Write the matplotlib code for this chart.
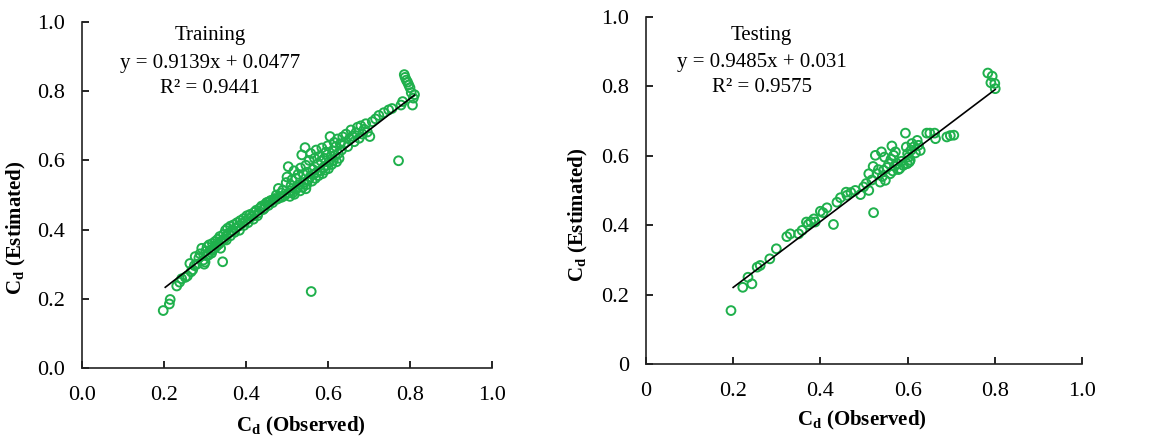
import numpy as np
import matplotlib
matplotlib.use("Agg")
import matplotlib.pyplot as plt

plt.rcParams['font.family'] = ['Liberation Serif', 'DejaVu Serif']
plt.rcParams['mathtext.fontset'] = 'custom'
plt.rcParams['mathtext.rm'] = 'Liberation Serif'
plt.rcParams['mathtext.bf'] = 'Liberation Serif:bold'

# training data (observed, estimated)
train_obs = [0.198, 0.213, 0.215, 0.231, 0.238, 0.243, 0.252, 0.257, 0.263, 0.266, 0.270, 0.274, 0.276, 0.280, 0.285,
             0.288, 0.292, 0.296, 0.298, 0.300, 0.302, 0.305, 0.308, 0.310, 0.313, 0.316, 0.318, 0.322, 0.325, 0.328,
             0.331, 0.334, 0.336, 0.338, 0.340, 0.343, 0.345, 0.347, 0.350, 0.352, 0.355, 0.358, 0.362, 0.366, 0.370,
             0.374, 0.378, 0.382, 0.386, 0.390, 0.394, 0.398, 0.402, 0.406, 0.410, 0.415, 0.420, 0.425, 0.430, 0.434,
             0.438, 0.442, 0.446, 0.450, 0.455, 0.460, 0.465, 0.470, 0.474, 0.479, 0.482, 0.486, 0.490, 0.494, 0.498,
             0.500, 0.503, 0.505, 0.507, 0.510, 0.512, 0.514, 0.517, 0.520, 0.522, 0.525, 0.527, 0.530, 0.533, 0.536,
             0.538, 0.540, 0.542, 0.544, 0.546, 0.548, 0.550, 0.552, 0.554, 0.556, 0.558, 0.559, 0.561, 0.563, 0.565,
             0.567, 0.569, 0.571, 0.573, 0.575, 0.577, 0.579, 0.581, 0.583, 0.585, 0.587, 0.589, 0.591, 0.593, 0.595,
             0.597, 0.599, 0.601, 0.603, 0.605, 0.607, 0.609, 0.611, 0.613, 0.615, 0.617, 0.619, 0.621, 0.623, 0.625,
             0.627, 0.630, 0.633, 0.636, 0.640, 0.644, 0.648, 0.652, 0.656, 0.660, 0.664, 0.668, 0.672, 0.676, 0.680,
             0.684, 0.688, 0.692, 0.696, 0.702, 0.708, 0.716, 0.724, 0.736, 0.748, 0.756, 0.772, 0.778, 0.782, 0.786,
             0.788, 0.791, 0.794, 0.797, 0.800, 0.803, 0.806, 0.808, 0.811,
             0.306, 0.318, 0.327, 0.352, 0.362, 0.372, 0.384, 0.395, 0.405, 0.418, 0.428, 0.445, 0.455, 0.466, 0.476,
             0.488, 0.508, 0.518, 0.532, 0.546]
train_est = [0.166, 0.185, 0.198, 0.237, 0.248, 0.258, 0.262, 0.266, 0.302, 0.278, 0.284, 0.296, 0.322, 0.300, 0.318,
             0.330, 0.346, 0.312, 0.300, 0.306, 0.338, 0.350, 0.326, 0.356, 0.340, 0.332, 0.360, 0.346, 0.366, 0.352,
             0.372, 0.358, 0.380, 0.346, 0.366, 0.307, 0.386, 0.372, 0.398, 0.382, 0.404, 0.390, 0.410, 0.396, 0.414,
             0.404, 0.420, 0.410, 0.426, 0.418, 0.432, 0.424, 0.440, 0.432, 0.444, 0.438, 0.450, 0.456, 0.448, 0.462,
             0.468, 0.458, 0.472, 0.478, 0.470, 0.484, 0.478, 0.490, 0.500, 0.519, 0.492, 0.506, 0.514, 0.498, 0.536,
             0.552, 0.582, 0.506, 0.496, 0.528, 0.544, 0.506, 0.570, 0.516, 0.548, 0.520, 0.560, 0.530, 0.578, 0.616,
             0.522, 0.560, 0.536, 0.637, 0.586, 0.530, 0.566, 0.544, 0.600, 0.552, 0.620, 0.221, 0.540, 0.574, 0.560,
             0.606, 0.548, 0.630, 0.566, 0.590, 0.556, 0.612, 0.570, 0.598, 0.636, 0.562, 0.580, 0.606, 0.572, 0.624,
             0.586, 0.642, 0.576, 0.596, 0.669, 0.612, 0.588, 0.628, 0.600, 0.652, 0.614, 0.640, 0.596, 0.662, 0.620,
             0.606, 0.648, 0.630, 0.668, 0.650, 0.676, 0.640, 0.662, 0.688, 0.670, 0.654, 0.680, 0.696, 0.664, 0.700,
             0.676, 0.690, 0.706, 0.682, 0.669, 0.712, 0.720, 0.730, 0.738, 0.746, 0.750, 0.599, 0.760, 0.770, 0.848,
             0.840, 0.832, 0.826, 0.818, 0.810, 0.796, 0.760, 0.780, 0.790,
             0.328, 0.340, 0.352, 0.370, 0.382, 0.392, 0.398, 0.412, 0.420, 0.430, 0.440, 0.462, 0.480, 0.486, 0.488,
             0.494, 0.512, 0.502, 0.512, 0.518]

# testing data (observed, estimated)
test_obs = [0.195, 0.222, 0.234, 0.243, 0.255, 0.262, 0.284, 0.299, 0.323, 0.331, 0.350, 0.358, 0.368, 0.372, 0.378,
            0.385, 0.388, 0.400, 0.406, 0.415, 0.430, 0.438, 0.446, 0.459, 0.461, 0.470, 0.480, 0.492, 0.499, 0.505,
            0.511, 0.511, 0.518, 0.521, 0.522, 0.526, 0.530, 0.533, 0.537, 0.540, 0.542, 0.545, 0.547, 0.549, 0.553,
            0.557, 0.560, 0.562, 0.564, 0.566, 0.568, 0.570, 0.572, 0.576, 0.579, 0.582, 0.586, 0.590, 0.595, 0.597,
            0.599, 0.600, 0.602, 0.604, 0.606, 0.608, 0.610, 0.615, 0.618, 0.622, 0.625, 0.629, 0.644, 0.651, 0.662,
            0.664, 0.690, 0.698, 0.706, 0.784, 0.794, 0.791, 0.800, 0.801]
test_est = [0.154, 0.221, 0.250, 0.231, 0.279, 0.284, 0.303, 0.332, 0.367, 0.375, 0.375, 0.385, 0.409, 0.402, 0.410,
            0.418, 0.409, 0.440, 0.436, 0.450, 0.402, 0.466, 0.479, 0.495, 0.486, 0.494, 0.500, 0.488, 0.510, 0.520,
            0.548, 0.500, 0.530, 0.569, 0.436, 0.601, 0.548, 0.560, 0.524, 0.611, 0.540, 0.558, 0.596, 0.529, 0.566,
            0.577, 0.548, 0.590, 0.628, 0.556, 0.601, 0.570, 0.611, 0.577, 0.560, 0.563, 0.584, 0.572, 0.665, 0.625,
            0.577, 0.606, 0.596, 0.582, 0.587, 0.616, 0.635, 0.626, 0.608, 0.644, 0.630, 0.615, 0.665, 0.665, 0.665,
            0.649, 0.654, 0.658, 0.659, 0.838, 0.829, 0.810, 0.808, 0.793]

train_fit = (0.9139, 0.0477, 0.9441)
test_fit = (0.9485, 0.031, 0.9575)

green = '#1fb04c'

fig = plt.figure(figsize=(11.49, 4.36), dpi=100)
ax1 = fig.add_axes([0.0714, 0.156, 0.3568, 0.7935])
ax2 = fig.add_axes([0.5622, 0.165, 0.3795, 0.7965])


def draw_panel(ax, obs, est, fit, title, zero_label, text_x, text_y, xlab_pos, ylab_pos):
    slope, inter, r2 = fit
    ax.scatter(obs, est, s=40, facecolors='none', edgecolors=green, linewidths=1.4, zorder=2)
    xs = np.array([min(obs) + 0.005, max(obs)])
    ax.plot(xs, slope * xs + inter, color='black', lw=1.2, zorder=3)

    ax.set_xlim(0, 1.0)
    ax.set_ylim(0, 1.0)
    ticks = [0, 0.2, 0.4, 0.6, 0.8, 1.0]
    labels = [zero_label, '0.2', '0.4', '0.6', '0.8', '1.0']
    ax.set_xticks(ticks)
    ax.set_xticklabels(labels)
    ax.set_yticks(ticks)
    ax.set_yticklabels(labels)
    ax.tick_params(direction='in', length=5, width=1.2, labelsize=16, pad=12, colors='black')
    ax.tick_params(axis='x', pad=13)

    for s in ['top', 'right']:
        ax.spines[s].set_visible(False)
    for s in ['left', 'bottom']:
        ax.spines[s].set_linewidth(1.2)
        ax.spines[s].set_color('#222222')

    ax.text(text_x, text_y[0], title, ha='center', va='center', fontsize=15)
    ax.text(text_x, text_y[1], 'y = %sx + %s' % (slope, inter), ha='center', va='center', fontsize=15)
    ax.text(text_x, text_y[2], 'R² = %s' % r2, ha='center', va='center', fontsize=15)

    ax.set_xlabel(r'$\mathbf{C_d}$ (Observed)', fontsize=15, fontweight='bold')
    ax.set_ylabel(r'$\mathbf{C_d}$ (Estimated)', fontsize=15, fontweight='bold')
    ax.xaxis.set_label_coords(*xlab_pos)
    ax.yaxis.set_label_coords(*ylab_pos)


draw_panel(ax1, train_obs, train_est, train_fit, 'Training', '0.0', 0.312,
           (0.962, 0.881, 0.809), (0.534, -0.135), (-0.133, 0.405))
draw_panel(ax2, test_obs, test_est, test_fit, 'Testing', '0', 0.265,
           (0.945, 0.867, 0.795), (0.495, -0.13), (-0.128, 0.43))

fig.savefig('out.png', dpi=100)
